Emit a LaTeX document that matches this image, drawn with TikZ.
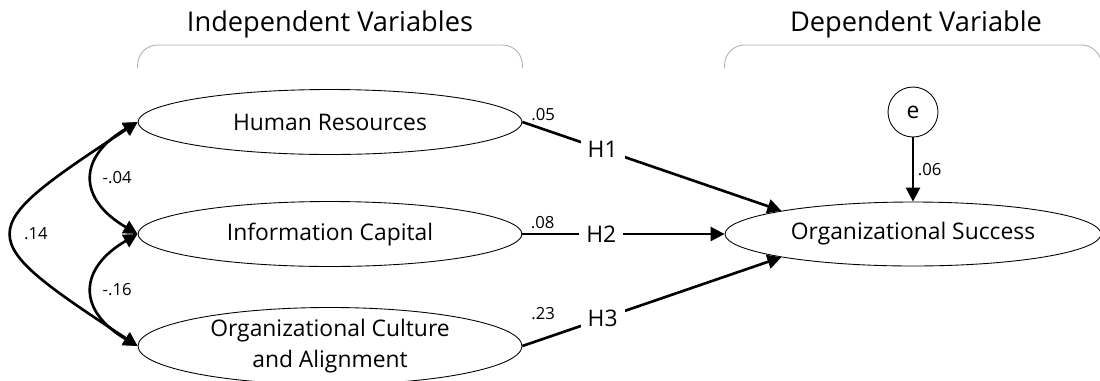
\documentclass[tikz,border=0pt]{standalone}
\usepackage{fontspec}
\setmainfont{Open Sans}
\usetikzlibrary{arrows.meta,positioning,calc,shapes.geometric}
\definecolor{bracketgray}{RGB}{175,175,175}

\begin{document}
\begin{tikzpicture}[x=0.02cm, y=-0.02cm,
  latent/.style={ellipse, draw=black, line width=0.5pt, minimum width=7.68cm, minimum height=1.3cm, inner sep=0pt, align=center, font=\fontsize{13}{18}\selectfont},
  errnode/.style={circle, draw=black, line width=0.5pt, minimum size=1cm, inner sep=0pt, font=\fontsize{13}{15}\selectfont},
  flow/.style={-{Triangle[length=0.28cm,width=0.28cm]}, line width=1.5pt},
  biflow/.style={{Triangle[length=0.28cm,width=0.28cm]}-{Triangle[length=0.28cm,width=0.28cm]}, line width=1.5pt},
  hyp/.style={fill=white, inner sep=4pt, font=\fontsize{13}{15}\selectfont},
  coef/.style={font=\fontsize{9.5}{11}\selectfont, inner sep=1pt},
  header/.style={font=\fontsize{15.5}{18}\selectfont},
  bracket/.style={draw=bracketgray, line width=0.5pt, rounded corners=0.4cm}
]
\useasboundingbox (0,0) rectangle (1100,380);

% Independent variables
\node[latent] (hr) at (330,122) {Human Resources};
\node[latent] (ic) at (330,234) {Information Capital};
\node[latent] (oca) at (330,346) {Organizational Culture\\and Alignment};

% Dependent variable
\node[latent, minimum width=7.52cm, minimum height=1.28cm] (os) at (913,234) {Organizational Success};
\node[errnode] (e) at (913,112) {e};

% Headers and brackets
\node[header] (indep) at (330,24) {Independent Variables};
\node[header] (dep) at (916,24) {Dependent Variable};
\draw[bracket] (hr.west |- 0,68) |- (hr.east |- 0,45) -- (hr.east |- 0,68);
\draw[bracket] (os.west |- 0,68) |- (os.east |- 0,45) -- (os.east |- 0,68);

% Paths with hypotheses
\draw[flow] (hr.east) -- node[pos=0.08, above=3pt, coef]{.05} node[hyp, pos=0.31]{H1} (os.170);
\draw[flow] (ic.east) -- node[pos=0.1, above=1pt, coef]{.08} node[hyp, pos=0.39]{H2} (os.west);
\draw[flow] (oca.east) -- node[pos=0.08, above=9pt, coef]{.23} node[hyp, pos=0.31]{H3} (os.190);
\draw[flow] (e) -- node[right=1pt, coef]{.06} (os);

% Covariances
\draw[biflow] (hr.west) .. controls +(-60,35) and +(-60,-35) .. node[right=4pt, coef]{-.04} (ic.west);
\draw[biflow] (ic.west) .. controls +(-60,35) and +(-60,-35) .. node[right=4pt, coef]{-.16} (oca.west);
\draw[biflow] (hr.west) .. controls +(-167,110) and +(-167,-110) .. node[right=5pt, coef]{.14} (oca.west);

\end{tikzpicture}
\end{document}
